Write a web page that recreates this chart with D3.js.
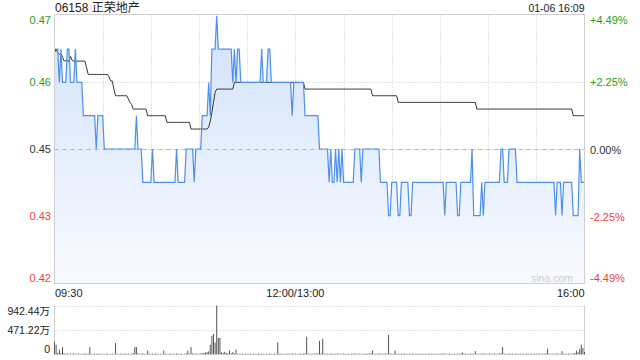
<!DOCTYPE html>
<html>
<head>
<meta charset="utf-8">
<script src="https://cdn.jsdelivr.net/npm/d3@7"></script>
<style>
body{margin:0;background:#fff;}
text{font-family:"Liberation Sans","Noto Sans CJK SC",Arial,sans-serif;}
</style>
</head>
<body>
<div id="chart"></div>
<script>
// header
var stockName = "06158 正荣地产";
var stamp = "01-06 16:09";
var prevClose = 0.45;

// axis labels
var priceTicks = ["0.47", "0.46", "0.45", "0.43", "0.42"];
var pctTicks = ["+4.49%", "+2.25%", "0.00%", "-2.25%", "-4.49%"];
var pctSteps = [4.49, 2.245, 0, -2.245, -4.49];
var timeTickMinutes = [0, 150, 330];
var timeTickLabels = ["09:30", "12:00/13:00", "16:00"];
var volTickValues = [942.44, 471.22, 0];
var volTickLabels = ["942.44万", "471.22万", "0"];

// one value per minute, 09:30 .. 16:00 (lunch merged)
var price = [
/*0*/   .465,.465,.465,.46,.465,.46,.46,.46,.465,.465,
/*10*/  .46,.46,.46,.465,.46,.46,.46,.46,.455,.455,
/*20*/  .455,.455,.455,.455,.455,.455,.45,.455,.455,.455,
/*30*/  .455,.45,.45,.45,.45,.45,.45,.45,.45,.45,
/*40*/  .45,.45,.45,.45,.45,.45,.45,.45,.45,.45,
/*50*/  .45,.455,.45,.45,.45,.445,.445,.445,.445,.445,
/*60*/  .445,.45,.445,.445,.445,.445,.445,.445,.445,.445,
/*70*/  .445,.445,.445,.445,.445,.445,.45,.445,.445,.445,
/*80*/  .445,.445,.45,.45,.45,.45,.45,.445,.45,.45,
/*90*/  .45,.45,.455,.455,.455,.455,.46,.455,.465,.465,
/*100*/ .465,.47,.465,.465,.465,.465,.465,.465,.465,.465,
/*110*/ .465,.46,.465,.46,.465,.465,.46,.46,.46,.46,
/*120*/ .46,.46,.46,.46,.46,.46,.46,.46,.46,.465,
/*130*/ .46,.46,.46,.465,.465,.46,.46,.46,.46,.46,
/*140*/ .46,.46,.46,.46,.46,.46,.46,.46,.455,.46,
/*150*/ .46,.46,.46,.46,.46,.46,.455,.455,.455,.455,
/*160*/ .455,.455,.455,.455,.455,.45,.45,.45,.45,.45,
/*170*/ .45,.445,.45,.445,.445,.45,.445,.45,.445,.45,
/*180*/ .445,.445,.445,.445,.445,.445,.445,.45,.45,.45,
/*190*/ .45,.445,.45,.45,.45,.45,.45,.45,.45,.45,
/*200*/ .45,.45,.45,.445,.445,.445,.445,.445,.44,.44,
/*210*/ .445,.445,.445,.445,.44,.44,.445,.445,.445,.445,
/*220*/ .445,.44,.44,.445,.445,.445,.445,.445,.445,.445,
/*230*/ .445,.445,.445,.445,.445,.445,.445,.445,.445,.445,
/*240*/ .445,.445,.445,.44,.445,.445,.445,.445,.445,.445,
/*250*/ .445,.44,.44,.445,.445,.445,.445,.445,.445,.445,
/*260*/ .45,.44,.44,.44,.44,.44,.445,.44,.445,.445,
/*270*/ .445,.445,.445,.445,.445,.445,.445,.445,.45,.45,
/*280*/ .445,.445,.445,.45,.45,.45,.45,.45,.445,.445,
/*290*/ .445,.445,.445,.445,.445,.445,.445,.445,.445,.445,
/*300*/ .445,.445,.445,.445,.445,.445,.445,.445,.445,.445,
/*310*/ .445,.445,.44,.445,.445,.445,.44,.445,.445,.445,
/*320*/ .445,.445,.445,.44,.44,.44,.44,.45,.445,.445,
/*330*/ .445
];

var avgPrice = [
/*0*/   .4645,.465,.4645,.4642,.4643,.4638,.4632,.4633,.4632,.4632,
/*10*/  .4639,.4633,.4632,.4632,.4632,.4632,.4632,.4632,.4632,.4632,
/*20*/  .4622,.4612,.4612,.4612,.4612,.4612,.4612,.4612,.4612,.4612,
/*30*/  .4612,.4612,.4612,.4612,.4608,.4602,.4602,.459,.458,.458,
/*40*/  .458,.458,.458,.458,.458,.458,.4575,.457,.4567,.456,
/*50*/  .456,.456,.456,.456,.456,.456,.456,.456,.455,.455,
/*60*/  .455,.455,.455,.455,.455,.455,.455,.455,.455,.455,
/*70*/  .454,.454,.454,.454,.454,.454,.454,.454,.454,.454,
/*80*/  .454,.454,.454,.454,.454,.453,.453,.453,.453,.453,
/*90*/  .453,.453,.453,.453,.453,.453,.4533,.4542,.4555,.457,
/*100*/ .4585,.459,.459,.459,.459,.459,.459,.459,.459,.459,
/*110*/ .459,.459,.46,.46,.46,.46,.46,.46,.46,.46,
/*120*/ .46,.46,.46,.46,.46,.46,.46,.46,.46,.46,
/*130*/ .46,.46,.46,.46,.46,.46,.46,.46,.46,.46,
/*140*/ .46,.46,.46,.46,.46,.46,.46,.46,.46,.46,
/*150*/ .46,.46,.46,.46,.46,.46,.459,.459,.459,.459,
/*160*/ .459,.459,.459,.459,.459,.459,.459,.459,.459,.459,
/*170*/ .459,.459,.459,.459,.459,.459,.459,.459,.459,.459,
/*180*/ .459,.459,.459,.459,.459,.459,.459,.459,.459,.459,
/*190*/ .459,.459,.459,.459,.459,.459,.459,.459,.458,.458,
/*200*/ .458,.458,.458,.458,.458,.458,.458,.458,.458,.458,
/*210*/ .458,.458,.458,.458,.457,.457,.457,.457,.457,.457,
/*220*/ .457,.457,.457,.457,.457,.457,.457,.457,.457,.457,
/*230*/ .457,.457,.457,.457,.457,.457,.457,.457,.457,.457,
/*240*/ .457,.457,.457,.457,.457,.457,.457,.457,.457,.457,
/*250*/ .457,.457,.457,.457,.457,.457,.457,.457,.457,.457,
/*260*/ .457,.457,.457,.456,.456,.456,.456,.456,.456,.456,
/*270*/ .456,.456,.456,.456,.456,.456,.456,.456,.456,.456,
/*280*/ .456,.456,.456,.456,.456,.456,.456,.456,.456,.456,
/*290*/ .456,.456,.456,.456,.456,.456,.456,.456,.456,.456,
/*300*/ .456,.456,.456,.456,.456,.456,.456,.456,.456,.456,
/*310*/ .456,.456,.456,.456,.456,.456,.456,.456,.456,.456,
/*320*/ .456,.456,.456,.455,.455,.455,.455,.455,.455,.455,
/*330*/ .455
];

// volume, 万 shares
var volume = [
/*0*/   251,188,30,94,25,138,22,14,20,12,
/*10*/  18,10,24,15,12,20,9,16,12,22,
/*20*/  14,18,144,12,10,17,14,22,11,16,
/*30*/  12,10,14,20,9,12,16,11,220,14,
/*40*/  10,18,12,14,22,11,16,10,14,26,
/*50*/  144,144,20,12,14,24,10,16,75,14,
/*60*/  12,18,10,22,14,12,17,11,75,16,
/*70*/  14,10,20,12,16,11,22,14,10,17,
/*80*/  12,14,20,75,16,144,22,14,18,12,
/*90*/  16,20,24,30,40,45,60,188,358,396,
/*100*/ 232,942.44,320,320,40,26,50,30,22,75,
/*110*/ 20,45,24,94,14,17,12,20,10,16,
/*120*/ 12,14,18,10,16,12,14,20,11,17,
/*130*/ 14,10,16,12,18,14,11,16,12,232,
/*140*/ 14,20,12,10,16,14,18,12,22,14,
/*150*/ 16,12,14,20,11,17,22,339,16,14,
/*160*/ 12,18,14,24,20,264,22,302,17,14,
/*170*/ 16,12,20,14,18,11,22,16,12,14,
/*180*/ 20,14,12,17,10,16,14,22,12,18,
/*190*/ 14,11,16,12,20,14,22,17,75,14,
/*200*/ 12,16,20,14,18,12,22,14,377,20,
/*210*/ 16,12,75,14,18,11,16,12,20,14,
/*220*/ 12,17,14,20,11,16,12,14,18,12,
/*230*/ 16,14,12,20,14,18,11,16,14,12,
/*240*/ 18,14,22,16,12,14,20,11,16,14,
/*250*/ 12,16,14,20,40,14,18,12,16,14,
/*260*/ 20,14,63,16,12,18,14,22,16,12,
/*270*/ 14,20,12,16,18,14,12,20,22,144,
/*280*/ 16,14,12,18,14,20,11,16,14,12,
/*290*/ 18,14,16,12,20,14,11,16,12,18,
/*300*/ 14,20,16,12,18,14,22,113,16,14,
/*310*/ 12,18,14,20,16,12,63,14,18,12,
/*320*/ 20,16,14,22,30,75,40,107,188,126,
/*330*/ 50
];

var W = 640, H = 360;
var left = 54.5, right = 584.5;
var pTop = 14.5, pBottom = 283.5;
var vTop = 305.5, vBottom = 354.5;

var svg = d3.select("#chart").append("svg")
    .attr("width", W)
    .attr("height", H);

var x = d3.scaleLinear().domain([0, 330]).range([left, right]);
var pMin = prevClose * (1 - 0.0449), pMax = prevClose * (1 + 0.0449);
var y = d3.scaleLinear().domain([pMin, pMax]).range([pBottom, pTop]);
var yv = d3.scaleLinear().domain([0, 942.44]).range([vBottom, vTop]);

var defs = svg.append("defs");
var grad = defs.append("linearGradient")
    .attr("id", "fillGrad")
    .attr("gradientUnits", "userSpaceOnUse")
    .attr("x1", 0).attr("y1", pTop).attr("x2", 0).attr("y2", pBottom);
grad.append("stop").attr("offset", "0%").attr("stop-color", "#d2e2fa");
grad.append("stop").attr("offset", "100%").attr("stop-color", "#f8faff");

// grid in the price panel
var gridLevels = pctSteps.slice(1, 4).map(function(p){ return prevClose * (1 + p / 100); });
svg.selectAll(".hgrid")
    .data(gridLevels)
    .enter().append("line")
    .attr("x1", left).attr("x2", right)
    .attr("y1", function(d){ return Math.round(y(d)) + 0.5; })
    .attr("y2", function(d){ return Math.round(y(d)) + 0.5; })
    .style("stroke", "#c8c8c8")
    .style("stroke-dasharray", "1,2");

svg.selectAll(".vgrid")
    .data(d3.range(30, 330, 30))
    .enter().append("line")
    .attr("x1", function(d){ return Math.round(x(d)) + 0.5; })
    .attr("x2", function(d){ return Math.round(x(d)) + 0.5; })
    .attr("y1", pTop).attr("y2", pBottom)
    .style("stroke", "#c8c8c8")
    .style("stroke-dasharray", "1,2");

// area + lines
var area = d3.area()
    .x(function(d, i){ return x(i); })
    .y0(pBottom)
    .y1(function(d){ return y(d); });

svg.append("path")
    .datum(price)
    .attr("d", area)
    .style("fill", "url(#fillGrad)");

// previous close
svg.append("line")
    .attr("x1", left).attr("x2", right)
    .attr("y1", Math.round(y(prevClose)) + 0.5)
    .attr("y2", Math.round(y(prevClose)) + 0.5)
    .style("stroke", "#f0a070")
    .style("stroke-dasharray", "4,4");

var line = d3.line()
    .x(function(d, i){ return x(i); })
    .y(function(d){ return y(d); });

svg.append("path")
    .datum(avgPrice)
    .attr("d", line)
    .style("fill", "none")
    .style("stroke", "#333")
    .style("stroke-width", 1);

svg.append("path")
    .datum(price)
    .attr("d", line)
    .style("fill", "none")
    .style("stroke", "#4d8fee")
    .style("stroke-width", 1.2);

// price panel border
svg.append("rect")
    .attr("x", left).attr("y", pTop)
    .attr("width", right - left).attr("height", pBottom - pTop)
    .style("fill", "none")
    .style("stroke", "#cfcfcf");

// watermark
svg.append("text")
    .text("sina.com")
    .attr("x", 573).attr("y", 282)
    .attr("text-anchor", "end")
    .style("font-size", "10.5px")
    .style("fill", "#cccccc");

// left / right labels
var labelColors = ["#23a023", "#23a023", "#333", "#f03c3c", "#f03c3c"];
var labelShift = [5, 0, 0, 0, -6];
svg.selectAll(".plabel")
    .data(priceTicks)
    .enter().append("text")
    .text(function(d){ return d; })
    .attr("x", 51)
    .attr("y", function(d, i){ return y(prevClose * (1 + pctSteps[i] / 100)) + labelShift[i] + 4; })
    .attr("text-anchor", "end")
    .style("font-size", "11px")
    .style("fill", function(d, i){ return labelColors[i]; });

svg.selectAll(".rlabel")
    .data(pctTicks)
    .enter().append("text")
    .text(function(d){ return d; })
    .attr("x", 590)
    .attr("y", function(d, i){ return y(prevClose * (1 + pctSteps[i] / 100)) + labelShift[i] + 4.5; })
    .attr("text-anchor", "start")
    .style("font-size", "11px")
    .style("fill", function(d, i){ return labelColors[i]; });

// time labels
var anchors = ["start", "middle", "end"];
svg.selectAll(".tlabel")
    .data(timeTickLabels)
    .enter().append("text")
    .text(function(d){ return d; })
    .attr("x", function(d, i){ return x(timeTickMinutes[i]) + (i == 0 ? 0.5 : 0); })
    .attr("y", 297)
    .attr("text-anchor", function(d, i){ return anchors[i]; })
    .style("font-size", "11px")
    .style("fill", "#222");

// header
svg.append("text")
    .text(stockName)
    .attr("x", 55).attr("y", 12)
    .style("font-size", "12px")
    .style("fill", "#222");

svg.append("text")
    .text(stamp)
    .attr("x", 584.5).attr("y", 12)
    .attr("text-anchor", "end")
    .style("font-size", "10.5px")
    .style("fill", "#222");

// volume panel
svg.selectAll(".vgridh")
    .data(volTickValues.slice(0, 2))
    .enter().append("line")
    .attr("x1", left).attr("x2", right)
    .attr("y1", function(d){ return Math.round(yv(d)) + 0.5; })
    .attr("y2", function(d){ return Math.round(yv(d)) + 0.5; })
    .style("stroke", "#c8c8c8")
    .style("stroke-dasharray", "1,2");

svg.append("line")
    .attr("x1", right).attr("x2", right)
    .attr("y1", vTop).attr("y2", vBottom)
    .style("stroke", "#cfcfcf");
svg.append("line")
    .attr("x1", left).attr("x2", left)
    .attr("y1", vTop).attr("y2", vBottom)
    .style("stroke", "#cfcfcf");

svg.selectAll(".vbar")
    .data(volume)
    .enter().append("rect")
    .attr("x", function(d, i){ return x(i) - 0.5; })
    .attr("width", 1)
    .attr("y", function(d){ return yv(d); })
    .attr("height", function(d){ return vBottom - yv(d); })
    .style("fill", "#555");

var volShift = [5, 0, -6];
svg.selectAll(".vlabel")
    .data(volTickLabels)
    .enter().append("text")
    .text(function(d){ return d; })
    .attr("x", 50)
    .attr("y", function(d, i){ return yv(volTickValues[i]) + volShift[i] + 4; })
    .attr("text-anchor", "end")
    .style("font-size", "10.5px")
    .style("fill", "#222");
</script>
</body>
</html>
